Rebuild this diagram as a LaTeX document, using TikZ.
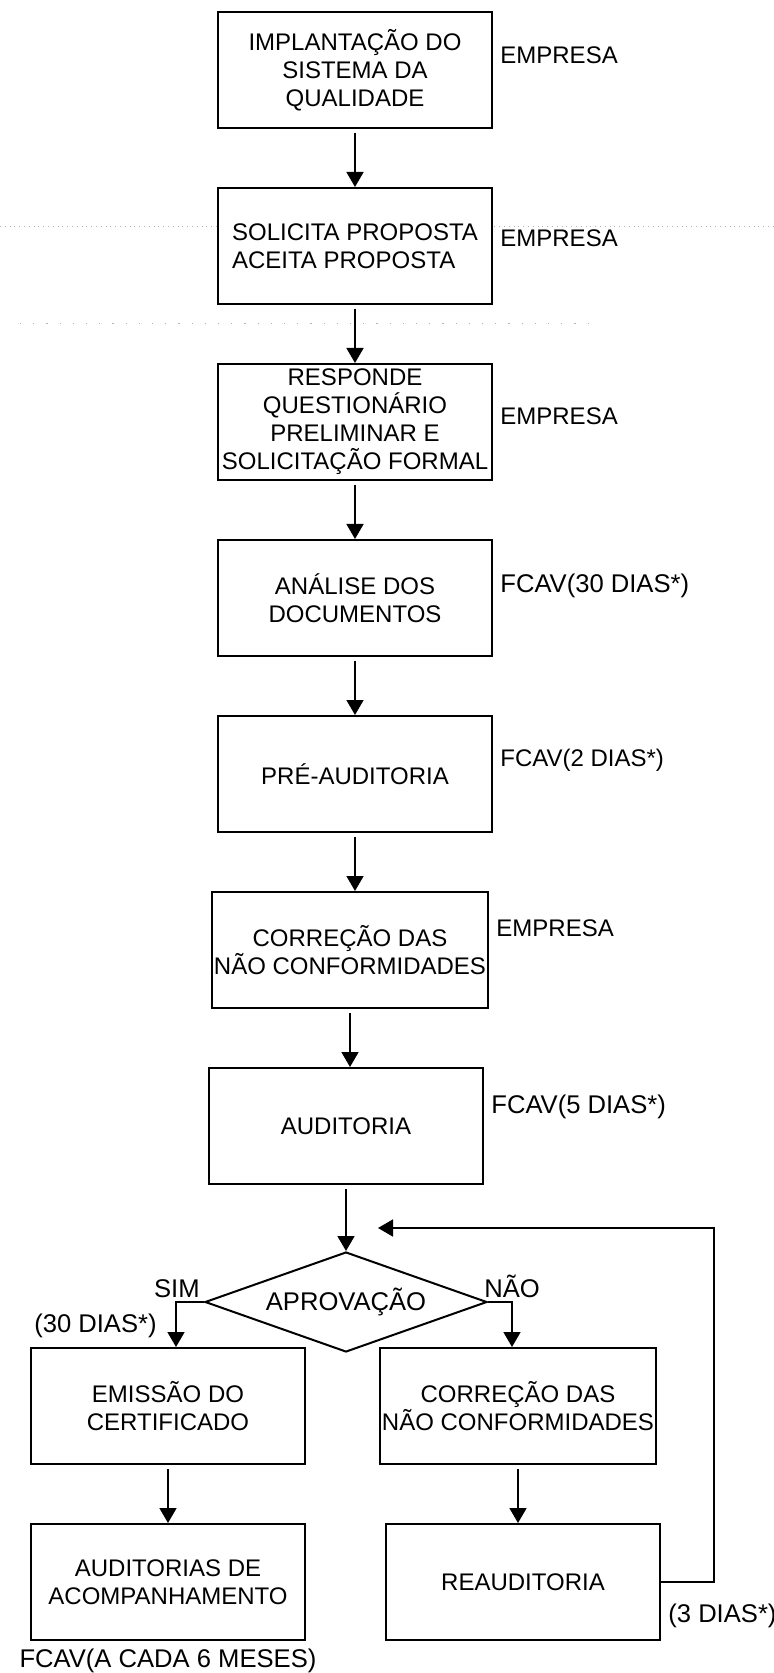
\documentclass[tikz,border=0pt]{standalone}
\usepackage{fontspec}
\setmainfont{Liberation Sans}
\usetikzlibrary{shapes.geometric,arrows.meta}

\begin{document}
\begin{tikzpicture}[
  x=0.5pt, y=-0.5pt,
  node distance=88pt,
  font=\fontsize{12}{14}\selectfont,
  etapa/.style={
    draw,
    fill=white,
    line width=1pt,
    align=center,
    minimum width=137pt,
    minimum height=58pt,
    inner sep=1pt
  },
  decisao/.style={
    draw,
    fill=white,
    line width=1pt,
    diamond,
    aspect=2.8,
    minimum width=141pt,
    minimum height=50pt,
    inner sep=0pt,
    font=\fontsize{12.8}{15}\selectfont
  },
  quem/.style={anchor=west, inner sep=2pt, xshift=1.5pt},
  maior/.style={font=\fontsize{12.8}{15}\selectfont},
  seta/.style={-{Triangle[width=8.5pt,length=7.5pt]}, line width=0.8pt, shorten <=2pt},
  quebra/.style={gray!60, line width=0.4pt}
]
\useasboundingbox (0,0) rectangle (774,1673);

% dotted page-break lines
\draw[quebra, dotted] (0,226) -- (774,226);
\draw[quebra, dash pattern=on 0.6pt off 6pt] (20,323) -- (600,323);

% main chain
\node[etapa] (impl) at (355,70) {IMPLANTAÇÃO DO\\ SISTEMA DA\\ QUALIDADE};
\node[etapa, align=left] (proposta) [below of=impl] {SOLICITA PROPOSTA\\ ACEITA PROPOSTA};
\node[etapa] (quest) [below of=proposta] {RESPONDE\\ QUESTIONÁRIO\\ PRELIMINAR E\\ SOLICITAÇÃO FORMAL};
\node[etapa] (analise) [below of=quest] {ANÁLISE DOS\\ DOCUMENTOS};
\node[etapa] (pre) [below of=analise] {PRÉ-AUDITORIA};
\node[etapa] (correcao) [below of=pre, xshift=-2.5pt] {CORREÇÃO DAS\\ NÃO CONFORMIDADES};
\node[etapa] (auditoria) [below of=correcao, xshift=-2pt] {AUDITORIA};
\node[decisao] (aprov) [below of=auditoria] {APROVAÇÃO};

% the two outcomes
\node[etapa] (emissao) [node distance=52pt, below of=aprov, xshift=-89pt] {EMISSÃO DO\\ CERTIFICADO};
\node[etapa] (correcao2) [node distance=52pt, below of=aprov, xshift=86pt] {CORREÇÃO DAS\\ NÃO CONFORMIDADES};
\node[etapa] (acomp) [below of=emissao] {AUDITORIAS DE\\ ACOMPANHAMENTO};
\node[etapa] (reaud) [below of=correcao2, xshift=2.5pt] {REAUDITORIA};

% who does what, and how long
\node[quem] (impl-q) at ([yshift=7.5pt]impl.east) {EMPRESA};
\node[quem] (proposta-q) at ([yshift=4pt]proposta.east) {EMPRESA};
\node[quem] (quest-q) at ([yshift=3pt]quest.east) {EMPRESA};
\node[quem, maior] (analise-q) at ([yshift=6pt]analise.east) {FCAV(30 DIAS*)};
\node[quem] (pre-q) at ([yshift=7pt]pre.east) {FCAV(2 DIAS*)};
\node[quem] (correcao-q) at ([yshift=11pt]correcao.east) {EMPRESA};
\node[quem, maior] (auditoria-q) at ([yshift=9.5pt]auditoria.east) {FCAV(5 DIAS*)};

\node[maior, anchor=south east, inner sep=2pt] (sim) at (aprov.west) {SIM};
\node[maior, anchor=south west, inner sep=2pt, xshift=-4pt] (nao) at (aprov.east) {NÃO};
\node[maior, anchor=east, inner sep=2pt] (sim-q) at (161,1326) {(30 DIAS*)};
\node[maior, anchor=north, inner sep=2pt, yshift=-2pt] (acomp-q) at (acomp.south) {FCAV(A CADA 6 MESES)};
\node[quem, maior] (reaud-q) at ([yshift=-17pt]reaud.east) {(3 DIAS*)};

\coordinate (volta) at ([xshift=16pt, yshift=11.5pt]aprov.north);

\draw[seta] (impl.south) -- (impl.south |- proposta.north);
\draw[seta] (proposta.south) -- (proposta.south |- quest.north);
\draw[seta] (quest.south) -- (quest.south |- analise.north);
\draw[seta] (analise.south) -- (analise.south |- pre.north);
\draw[seta] (pre.south) -- (pre.south |- correcao.north);
\draw[seta] (correcao.south) -- (correcao.south |- auditoria.north);
\draw[seta] (auditoria.south) -- (aprov.north);
\draw[seta, shorten <=0pt] (aprov.west) -| ([xshift=4pt]emissao.north);
\draw[seta, shorten <=0pt] (aprov.east) -| ([xshift=-3pt]correcao2.north);
\draw[seta] (emissao) -- (acomp);
\draw[seta] (correcao2.south) -- (correcao2.south |- reaud.north);
\draw[seta, shorten <=0pt] (reaud.east) -- ++(53,0) |- (volta);
\end{tikzpicture}
\end{document}
